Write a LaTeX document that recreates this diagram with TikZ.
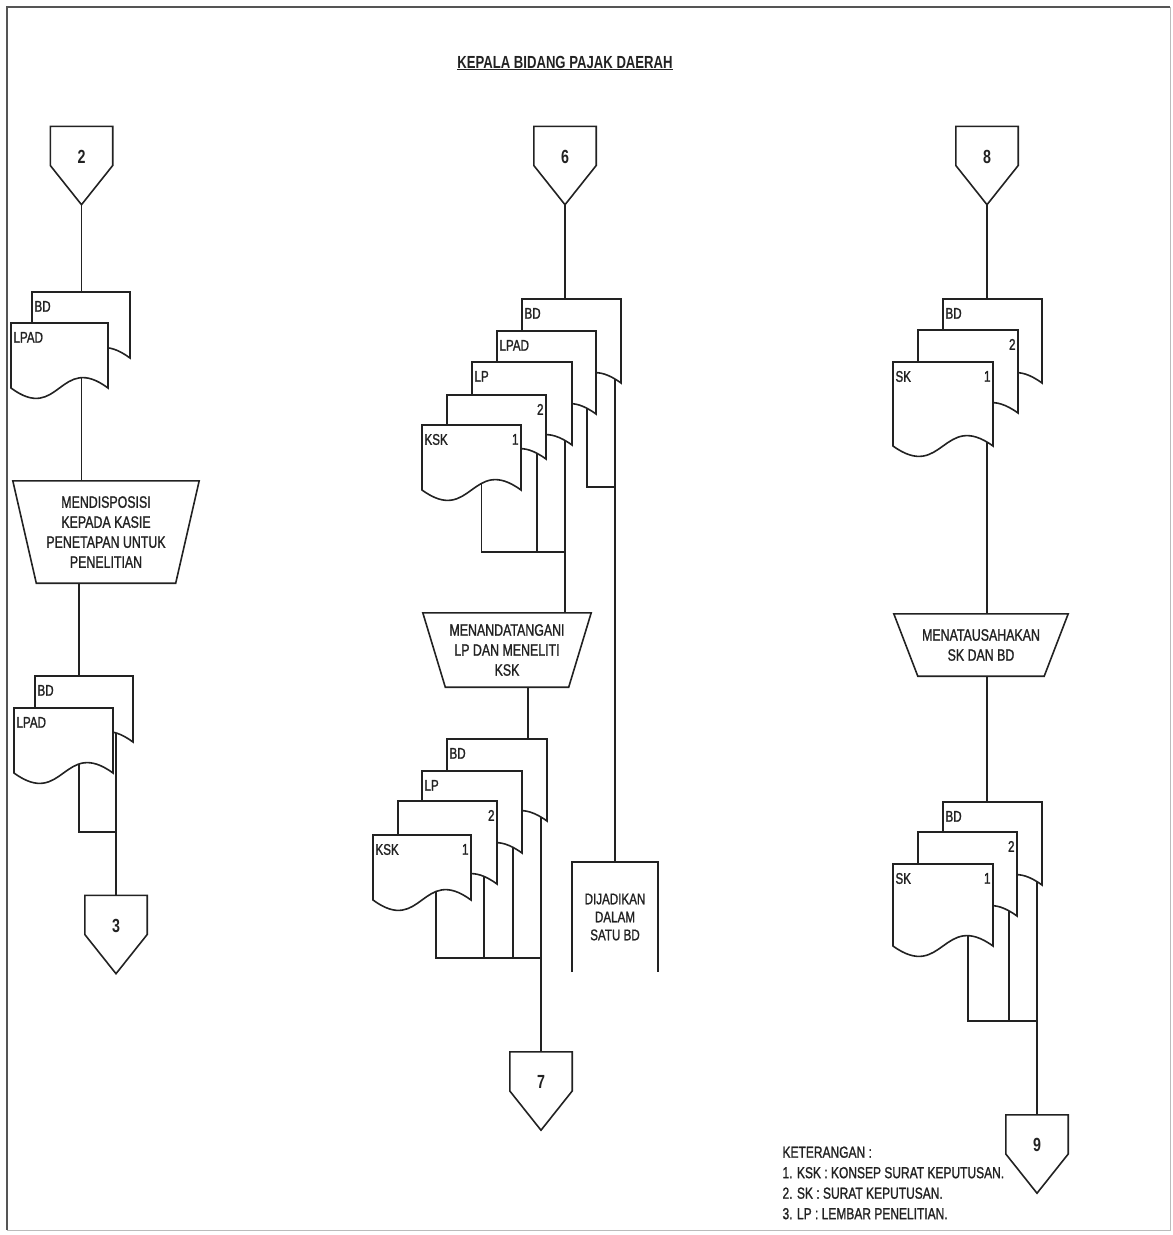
\documentclass[tikz,border=0pt]{standalone}
\usepackage{fontspec}
\setmainfont{Liberation Sans}[FakeStretch=0.75, UprightFeatures={FakeBold=1.2}]
\usetikzlibrary{backgrounds}
\definecolor{tinta}{HTML}{222222}
\definecolor{bingkai}{HTML}{555555}

\begin{document}
\begin{tikzpicture}[x=1pt, y=-1pt, text=tinta,
  garis/.style={line width=1.6pt, draw=tinta},
  teks/.style={font=\fontsize{16.5}{20}\selectfont, align=center},
  lbl/.style={font=\fontsize{15.5}{16}\selectfont, inner xsep=2.5pt, inner ysep=9pt, outer sep=0pt},
  kiri/.style={label={[lbl,anchor=north west]north west:#1}},
  kanan/.style={label={[lbl,anchor=north east]north east:#1}},
  nomor/.style={label={[font=\fontsize{19}{19}\selectfont\bfseries,yshift=9pt]center:#1}},
  doc/.style={rectangle, inner sep=0pt, outer sep=0pt, anchor=north west,
    minimum width=99pt, minimum height=#1,
    append after command={\pgfextra{\draw[garis,fill=white]
      (\tikzlastnode.north west) -- (\tikzlastnode.north east) -- (\tikzlastnode.south east)
      .. controls ([yshift=36pt]\tikzlastnode.south) and ([yshift=-36pt]\tikzlastnode.south) ..
      (\tikzlastnode.south west) -- cycle;}}},
  conn/.style={rectangle, inner sep=0pt, minimum width=62pt, minimum height=78pt,
    append after command={\pgfextra{\draw[garis]
      (\tikzlastnode.north west) -- (\tikzlastnode.north east) -- (\tikzlastnode.east)
      -- (\tikzlastnode.south) -- (\tikzlastnode.west) -- cycle;}}},
  proc/.style={rectangle, inner sep=0pt, teks,
    append after command={\pgfextra{\draw[garis]
      (\tikzlastnode.north west) -- (\tikzlastnode.north east)
      -- ([xshift=-#1]\tikzlastnode.south east) -- ([xshift=#1]\tikzlastnode.south west) -- cycle;}}},
  proc/.default=23pt,
  wadah/.style={rectangle, inner sep=0pt, minimum width=86pt, minimum height=110pt,
    font=\fontsize{15.5}{18}\selectfont, align=center,
    append after command={\pgfextra{\draw[garis]
      (\tikzlastnode.south west) -- (\tikzlastnode.north west)
      -- (\tikzlastnode.north east) -- (\tikzlastnode.south east);}}}]

  \useasboundingbox (0,0) rectangle (1173,1235);
  \draw[line width=1.5pt, bingkai] (7,1230) -- (7,7) -- (1170,7);
  \draw[line width=1pt, bingkai!40] (1170,7) -- (1170,1230) -- (7,1230);

  \node[font=\fontsize{17.5}{20}\selectfont\bfseries] (judul) at (565,63) {\underline{KEPALA BIDANG PAJAK DAERAH}};

  % kolom kiri
  \node[conn, nomor=2] (c2) at (81.5,165.5) {};
  \node[doc=66pt, minimum width=98pt, kiri=BD] (bda) at (32,292) {};
  \node[doc=65pt, minimum width=97pt, kiri=LPAD] (lpada) at (11,323) {};
  \node[proc=23.5pt, minimum width=186pt, minimum height=102pt] (t1) at (106,532)
    {MENDISPOSISI\\KEPADA KASIE\\PENETAPAN UNTUK\\PENELITIAN};
  \node[doc=66pt, minimum width=98pt, kiri=BD] (bda2) at (35,676) {};
  \node[doc=65pt, kiri=LPAD] (lpada2) at (14,708) {};
  \node[conn, nomor=3] (c3) at (116,934.5) {};

  % kolom tengah
  \node[conn, nomor=6] (c6) at (565,165.5) {};
  \node[doc=84pt, kiri=BD] (bdb) at (522,299) {};
  \node[doc=83pt, kiri=LPAD] (lpadb) at (497,331) {};
  \node[doc=83pt, minimum width=100pt, kiri=LP] (lpb) at (472,362) {};
  \node[doc=64pt, kanan=2] (duab) at (447,395) {};
  \node[doc=65pt, kiri=KSK, kanan=1] (kskb) at (422,425) {};
  \node[proc=22.5pt, minimum width=168pt, minimum height=74pt] (t2) at (507,650)
    {MENANDATANGANI\\LP DAN MENELITI\\KSK};
  \node[doc=82pt, minimum width=100pt, kiri=BD] (bdb2) at (447,739) {};
  \node[doc=82pt, minimum width=100pt, kiri=LP] (lpb2) at (422,771) {};
  \node[doc=83pt, kanan=2] (duab2) at (398,801) {};
  \node[doc=65pt, minimum width=98pt, kiri=KSK, kanan=1] (kskb2) at (373,835) {};
  \node[wadah] (wadah) at (615,917) {DIJADIKAN\\DALAM\\SATU BD};
  \node[conn, nomor=7] (c7) at (541,1091) {};

  % kolom kanan
  \node[conn, nomor=8] (c8) at (987,165.5) {};
  \node[doc=84pt, kiri=BD] (bdc) at (943,299) {};
  \node[doc=83pt, minimum width=100pt, kanan=2] (duac) at (918,330) {};
  \node[doc=84pt, minimum width=100pt, kiri=SK, kanan=1] (skc) at (893,362) {};
  \node[proc=24pt, minimum width=174pt, minimum height=62pt] (t3) at (981,645)
    {MENATAUSAHAKAN\\SK DAN BD};
  \node[doc=83pt, kiri=BD] (bdc2) at (943,802) {};
  \node[doc=84pt, kanan=2] (duac2) at (918,832) {};
  \node[doc=82pt, minimum width=100pt, kiri=SK, kanan=1] (skc2) at (893,864) {};
  \node[conn, nomor=9] (c9) at (1037,1154) {};

  \node[font=\fontsize{16}{20.5}\selectfont, align=left, anchor=north west] (ket) at (779,1143)
    {KETERANGAN :\\1. KSK : KONSEP SURAT KEPUTUSAN.\\2. SK : SURAT KEPUTUSAN.\\3. LP : LEMBAR PENELITIAN.};

  % garis alir di belakang dokumen
  \coordinate (ja) at (79,832);
  \coordinate (jb) at (565,552);
  \coordinate (jc) at (615,487);
  \coordinate (jd) at (541,958);
  \coordinate (je) at (1037,1021);
  \coordinate (t2b) at ([xshift=21pt]t2.south);
  \begin{pgfonlayer}{background}
    \draw[garis] (c2.south) -- (c2.south |- t1.north);
    \draw[garis] (t1.south -| ja) -- (ja) -- (ja -| c3.north);
    \draw[garis] ([xshift=-17pt]bda2.east) -- (c3.north);
    \draw[garis] (c6.south) -- (c6.south |- t2.north);
    \draw[garis] ([xshift=10pt]kskb.center) |- (jb);
    \draw[garis] ([xshift=-9pt]duab.east) |- (jb);
    \draw[garis] ([xshift=-9pt]lpadb.east) |- (jc);
    \draw[garis] (wadah.north |- bdb.east) -- (wadah.north);
    \draw[garis] (t2b) -- (t2b |- bdb2.north);
    \draw[garis] ([xshift=14pt]kskb2.center) |- (jd);
    \draw[garis] ([xshift=-13pt]duab2.east) |- (jd);
    \draw[garis] ([xshift=-9pt]lpb2.east) |- (jd);
    \draw[garis] ([xshift=-6pt]bdb2.east) -- (c7.north);
    \draw[garis] (c8.south) -- (c8.south |- t3.north);
    \draw[garis] (t3.south -| c8.south) -- (c8.south |- bdc2.north);
    \draw[garis] ([xshift=25pt]skc2.center) |- (je);
    \draw[garis] ([xshift=-8pt]duac2.east) |- (je);
    \draw[garis] ([xshift=-5pt]bdc2.east) -- (c9.north);
  \end{pgfonlayer}
\end{tikzpicture}
\end{document}
